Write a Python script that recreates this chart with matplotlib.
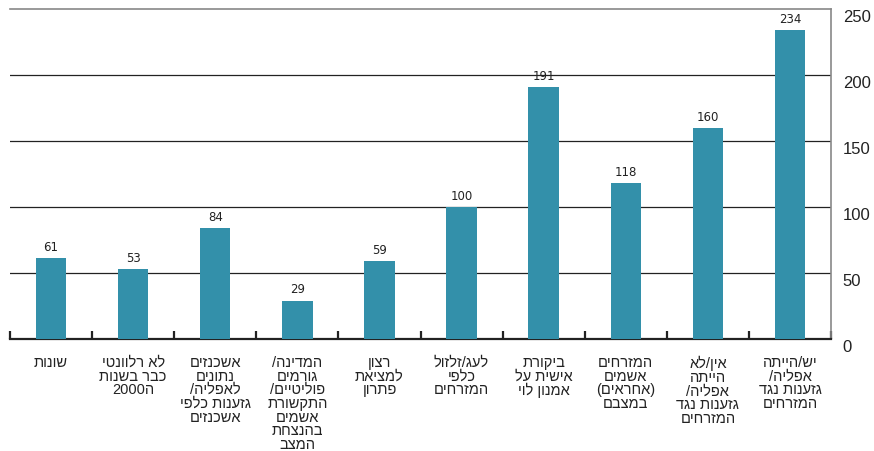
import re
import matplotlib
matplotlib.use("Agg")
import matplotlib.pyplot as plt
import matplotlib.transforms as mtransforms
import numpy as np

categories = [
    "שונות",
    "לא רלוונטי\nכבר בשנות\nה2000",
    "אשכנזים\nנתונים\nלאפליה/\nגזענות כלפי\nאשכנזים",
    "המדינה/\nגורמים\nפוליטיים/\nהתקשורת\nאשמים\nבהנצחת\nהמצב",
    "רצון\nלמציאת\nפתרון",
    "לעג/זלזול\nכלפי\nהמזרחים",
    "ביקורת\nאישית על\nאמנון לוי",
    "המזרחים\nאשמים\n(אחראים)\nבמצבם",
    "אין/לא\nהייתה\nאפליה/\nגזענות נגד\nהמזרחים",
    "יש/הייתה\nאפליה/\nגזענות נגד\nהמזרחים",
]
values = [61, 53, 84, 29, 59, 100, 191, 118, 160, 234]
y_ticks = [0, 50, 100, 150, 200, 250]

BAR_COLOR = "#3390aa"


def visual_rtl(text):
    # matplotlib has no bidi support, so flip each line by hand
    # (digit runs keep their order, brackets get mirrored)
    out = []
    for line in text.split("\n"):
        tokens = re.findall(r"\d+|\D", line)
        s = "".join(reversed(tokens))
        s = s.translate(str.maketrans("()", ")("))
        out.append(s)
    return "\n".join(out)


fig = plt.figure(figsize=(8.74, 4.52), dpi=100)
ax = fig.add_axes([10 / 874, 112 / 452, 821 / 874, 330 / 452])

x = np.arange(len(values))
ax.bar(x, values, width=0.37, color=BAR_COLOR, zorder=3)

for xi, v in zip(x, values):
    ax.text(xi, v + 4, str(v), ha="center", va="bottom", fontsize=8.5,
            color="#222222", family="DejaVu Sans")

ax.set_xlim(-0.5, len(values) - 0.5)
ax.set_ylim(0, 250)

# horizontal gridlines
for t in y_ticks[1:-1]:
    ax.axhline(t, color="#222222", lw=0.9, zorder=1)

ax.spines["left"].set_visible(False)
ax.spines["top"].set_color("#888888")
ax.spines["top"].set_linewidth(1.2)
ax.spines["right"].set_color("#888888")
ax.spines["right"].set_linewidth(1.2)
ax.spines["bottom"].set_color("#222222")
ax.spines["bottom"].set_linewidth(1.6)

ax.yaxis.tick_right()
ax.set_yticks(y_ticks)
ax.set_yticklabels([str(t) for t in y_ticks], fontsize=12, color="#222222",
                   family="Liberation Sans")
ax.tick_params(axis="y", length=0, pad=8.5)
shift = mtransforms.ScaledTranslation(0, -6.5 / 100, fig.dpi_scale_trans)
for lab in ax.get_yticklabels():
    lab.set_transform(lab.get_transform() + shift)

ax.set_xticks(np.arange(-0.5, len(values), 1.0))
ax.set_xticklabels([])
ax.tick_params(axis="x", direction="in", length=6, width=1.6, color="#222222")

for xi, lab in zip(x, categories):
    ax.text(xi, -12, visual_rtl(lab), ha="center", va="top", fontsize=10.5,
            linespacing=0.97, color="#222222", family="Liberation Sans")

fig.savefig("out.png", dpi=100)
